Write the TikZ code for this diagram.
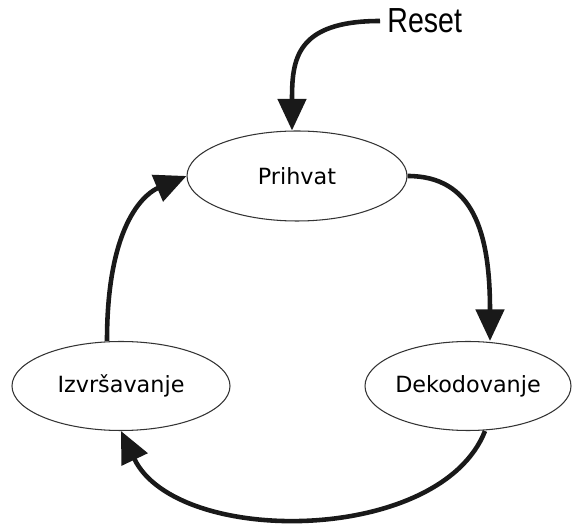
\documentclass[tikz,border=0pt]{standalone}
\usepackage{fontspec}
\setmainfont{DejaVu Sans}
\newfontfamily\resetfont{Liberation Sans}
\usetikzlibrary{shapes.geometric,arrows.meta}

\begin{document}
\begin{tikzpicture}[
    stage/.style={ellipse, draw=black!80, line width=0.6pt, fill=white, minimum width=4.4cm, minimum height=1.8cm, inner sep=0pt, font=\fontsize{12.7}{15}\selectfont},
    flow/.style={line width=2.6pt, black!90, -{Triangle[length=18pt, width=16pt]}},
    resetlabel/.style={font=\resetfont\fontsize{19.8}{22}\selectfont, xscale=0.82, inner ysep=1pt, inner xsep=5pt}
]

\useasboundingbox (0, 0) rectangle (11.46, 10.48);

% States
\node[stage] (prihvat) at (5.94, 6.96) {Prihvat};
\node[stage, minimum width=4.36cm, minimum height=1.78cm] (izvrsavanje) at (2.42, 2.76) {Izvršavanje};
\node[stage, minimum width=4.12cm, minimum height=1.78cm] (dekodovanje) at (9.36, 2.76) {Dekodovanje};

% Reset input
\node[resetlabel, anchor=west] (reset) at (7.6, 10.06) {Reset};

% Transitions
\draw[flow] (reset.west) .. controls +(-1.7, 0) and +(0, 1.4) .. ([xshift=-0.1cm]prihvat.north);
\draw[flow] (prihvat.east) .. controls +(1.3, 0) and +(0, 2.2) .. ([xshift=0.44cm]dekodovanje.north);
\draw[flow] ([xshift=0.34cm]dekodovanje.south) .. controls +(-0.9, -2.28) and +(1.11, -2.32) .. (izvrsavanje.south);
\draw[flow] ([xshift=-0.28cm]izvrsavanje.north) .. controls +(0, 2.46) and +(-0.76, -0.32) .. (prihvat.west);

\end{tikzpicture}
\end{document}
